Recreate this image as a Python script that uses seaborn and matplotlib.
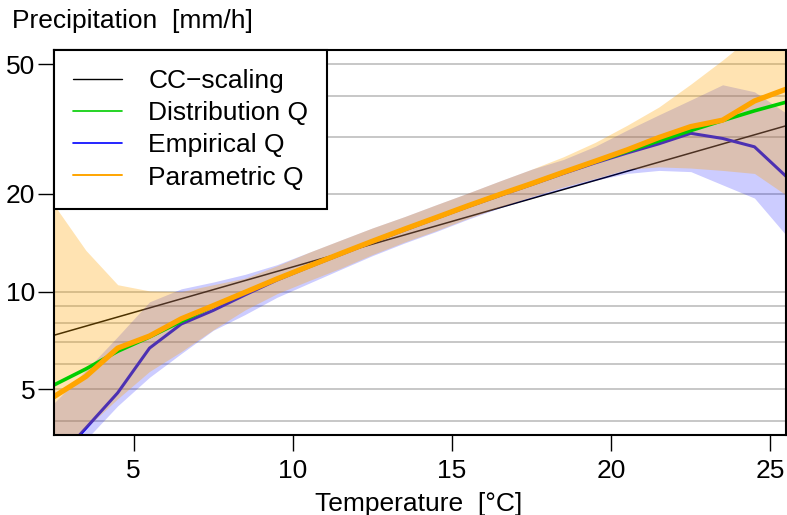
import matplotlib
matplotlib.use("Agg")
import matplotlib.pyplot as plt
import seaborn as sns
import pandas as pd
from matplotlib.lines import Line2D
from matplotlib.ticker import NullLocator, FixedLocator, FixedFormatter

# ---------------- data ----------------
temperature = [2.5, 3.5, 4.5, 5.5, 6.5, 7.5, 8.5, 9.5, 10.5, 11.5, 12.5, 13.5,
               14.5, 15.5, 16.5, 17.5, 18.5, 19.5, 20.5, 21.5, 22.5, 23.5, 24.5, 25.5]

distribution_q = [5.16, 5.78, 6.55, 7.25, 8.10, 9.02, 9.95, 10.94, 11.97, 13.09, 14.29, 15.56,
                  16.9, 18.37, 19.9, 21.5, 23.3, 25.1, 27.0, 29.1, 31.3, 33.6, 36.0, 38.3]

parametric_q = [4.75, 5.48, 6.70, 7.30, 8.25, 9.05, 9.95, 10.94, 11.97, 13.09, 14.29, 15.56,
                16.9, 18.37, 19.9, 21.5, 23.3, 25.2, 27.3, 29.8, 32.2, 33.7, 38.6, 42.0]

empirical_q = [2.97, 3.80, 4.88, 6.70, 7.95, 8.75, 9.77, 10.85, 11.90, 13.0, 14.2, 15.45,
               16.8, 18.25, 19.75, 21.35, 23.1, 24.9, 26.7, 28.5, 30.7, 29.6, 27.9, 22.6]

parametric_lo = [3.0, 3.8, 4.68, 5.68, 6.54, 7.63, 8.78, 9.85, 10.8, 11.8, 13.0, 14.2,
                 15.4, 16.8, 18.2, 19.6, 21.0, 22.3, 23.8, 24.2, 24.0, 23.6, 23.1, 19.8]
parametric_hi = [18.5, 13.4, 10.5, 10.05, 10.0, 10.5, 11.0, 12.0, 13.2, 14.4, 15.7, 17.0,
                 18.5, 20.1, 21.9, 23.8, 26.0, 28.8, 32.5, 37.0, 43.5, 51.6, 62.0, 66.0]

empirical_lo = [2.75, 3.5, 4.45, 5.45, 6.45, 7.6, 8.5, 9.6, 10.6, 11.7, 12.9, 14.1,
                15.3, 16.7, 18.1, 19.4, 20.7, 22.0, 23.1, 23.6, 23.4, 21.3, 19.4, 14.9]
empirical_hi = [4.54, 5.73, 7.27, 9.3, 10.2, 10.7, 11.3, 12.1, 13.2, 14.4, 15.7, 17.0,
                18.5, 20.1, 21.9, 23.8, 25.5, 28.0, 31.4, 35.0, 38.9, 43.3, 41.2, 35.4]

cc_temperature = [2.5, 25.5]
cc_scaling = [7.34, 32.4]

grid_levels = [4, 5, 6, 7, 8, 9, 10, 20, 30, 40, 50]
x_ticks = [5, 10, 15, 20, 25]
y_ticks = [5, 10, 20, 50]
y_tick_labels = ["5", "10", "20", "50"]
legend_labels = ["CC\u2212scaling", "Distribution Q", "Empirical Q", "Parametric Q"]

# ---------------- style ----------------
sns.set_theme(style="white")
plt.rcParams["font.family"] = ["Liberation Sans", "DejaVu Sans"]
plt.rcParams["text.color"] = "black"
plt.rcParams["axes.labelcolor"] = "black"
FS = 19

W, H = 787, 515
fig = plt.figure(figsize=(W / 100, H / 100), dpi=100)
ax = fig.add_axes([54 / W, 1 - 435 / H, (786.3 - 54) / W, (435 - 50) / H])

df = pd.DataFrame({
    "T": temperature,
    "dist": distribution_q,
    "param": parametric_q,
    "emp": empirical_q,
})
cc_df = pd.DataFrame({"T": cc_temperature, "cc": cc_scaling})

ax.set_yscale("log")

# horizontal grid lines
for lv in grid_levels:
    ax.axhline(lv, color="#BEBEBE", lw=1.2, zorder=1)

# lines beneath the bands
sns.lineplot(data=cc_df, x="T", y="cc", ax=ax, color="black", lw=1.1, zorder=2,
             legend=False, estimator=None)
sns.lineplot(data=df, x="T", y="emp", ax=ax, color="#0000FF", lw=2.2, zorder=2,
             legend=False, estimator=None)

# uncertainty bands
ax.fill_between(temperature, empirical_lo, empirical_hi, color="#0000FF", alpha=0.2,
                lw=0, zorder=3)
ax.fill_between(temperature, parametric_lo, parametric_hi, color="#FFA500", alpha=0.3,
                lw=0, zorder=3.1)

# lines on top
sns.lineplot(data=df, x="T", y="dist", ax=ax, color="#00CD00", lw=2.6, zorder=4,
             legend=False, estimator=None)
sns.lineplot(data=df, x="T", y="param", ax=ax, color="#FFA500", lw=3.8, zorder=5,
             legend=False, estimator=None)

ax.set_xlim(2.5, 25.5)
ax.set_ylim(3.62, 55.4)

ax.xaxis.set_major_locator(FixedLocator(x_ticks))
ax.yaxis.set_major_locator(FixedLocator(y_ticks))
ax.yaxis.set_major_formatter(FixedFormatter(y_tick_labels))
ax.yaxis.set_minor_locator(NullLocator())
ax.xaxis.set_minor_locator(NullLocator())

ax.tick_params(axis="both", which="major", direction="out", length=11.5, width=1.0,
               color="black", labelsize=FS, labelcolor="black",
               bottom=True, left=True, top=False, right=False)
ax.tick_params(axis="y", pad=2)
ax.tick_params(axis="x", pad=6)

for s in ax.spines.values():
    s.set_visible(True)
    s.set_color("black")
    s.set_linewidth(1.5)
    s.set_zorder(10)

ax.set_xlabel("")
ax.set_ylabel("")
ax.set_facecolor("white")

# axis titles
fig.text(12 / W, 1 - 28 / H, "Precipitation  [mm/h]", fontsize=FS, ha="left",
         va="baseline", color="black")
fig.text(419 / W, 1 - 510.5 / H, "Temperature  [\u00b0C]", fontsize=FS, ha="center",
         va="baseline", color="black")

# legend
handles = [
    Line2D([], [], color="black", lw=1.0),
    Line2D([], [], color="#00CD00", lw=1.2),
    Line2D([], [], color="#0000FF", lw=1.2),
    Line2D([], [], color="#FFA500", lw=1.4),
]
leg = ax.legend(handles, legend_labels, loc="upper left", bbox_to_anchor=(0, 1),
                borderaxespad=0, fontsize=FS, frameon=True, fancybox=False,
                edgecolor="black", framealpha=1, borderpad=0.72, labelspacing=0.31,
                handlelength=1.86, handletextpad=1.0, labelcolor="black")
leg.get_frame().set_linewidth(1.5)
leg.set_zorder(20)

fig.savefig("out.png", dpi=100)
